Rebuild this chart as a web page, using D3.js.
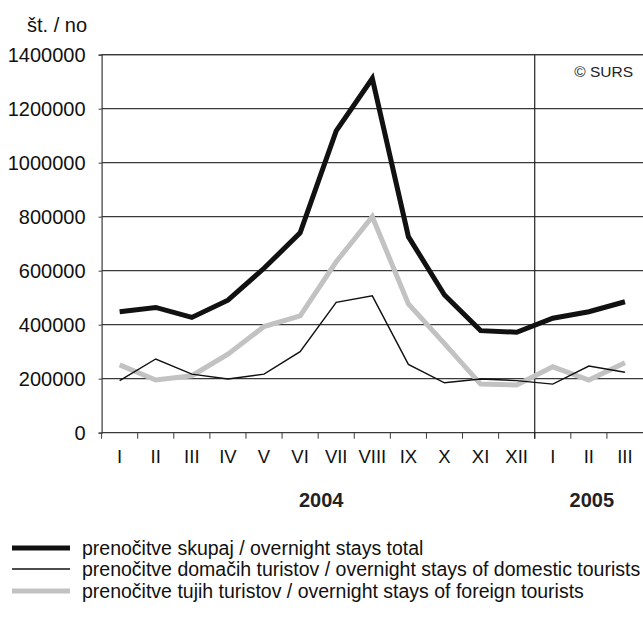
<!DOCTYPE html>
<html>
<head>
<meta charset="utf-8">
<script src="https://cdn.jsdelivr.net/npm/d3@7/dist/d3.min.js"></script>
<style>
  body { margin: 0; background: #fff; }
  svg { display: block; font-family: "Liberation Sans", Arial, sans-serif; }
</style>
</head>
<body>
<svg width="643" height="617"></svg>
<script>
const months = ["I", "II", "III", "IV", "V", "VI", "VII", "VIII", "IX", "X", "XI", "XII", "I", "II", "III"];
const years = [{ label: "2004", from: 0, to: 11 }, { label: "2005", from: 12, to: 14 }];
const yTicks = [0, 200000, 400000, 600000, 800000, 1000000, 1200000, 1400000];

// overnight stays total
const total = [448000, 464000, 427000, 491000, 609000, 740000, 1118000, 1312000, 726000, 510000, 378000, 372000, 424000, 448000, 485000];
// domestic tourists
const domestic = [193000, 273000, 217000, 199000, 217000, 300000, 483000, 507000, 253000, 185000, 199000, 193000, 180000, 247000, 224000];
// foreign tourists
const foreign = [251000, 195000, 211000, 291000, 393000, 433000, 633000, 800000, 477000, 330000, 180000, 177000, 244000, 195000, 259000];

const series = [
  { name: "prenočitve skupaj / overnight stays total", values: total, color: "#111", width: 5 },
  { name: "prenočitve domačih turistov / overnight stays of domestic tourists", values: domestic, color: "#111", width: 1.4 },
  { name: "prenočitve tujih turistov / overnight stays of foreign tourists", values: foreign, color: "#c2c2c2", width: 5 }
];

const svg = d3.select("svg");
const plotLeft = 101.6, plotRight = 643, plotTop = 54.7, plotBottom = 432.7;

const x = d3.scaleBand().domain(d3.range(months.length)).range([plotLeft, plotRight]);
const y = d3.scaleLinear().domain([0, 1400000]).range([plotBottom, plotTop]);

// grid lines
svg.append("g")
  .selectAll("line")
  .data(yTicks.filter(d => d > 0))
  .join("line")
  .attr("x1", plotLeft).attr("x2", plotRight)
  .attr("y1", d => y(d)).attr("y2", d => y(d))
  .attr("stroke", "#3a3a3a")
  .attr("stroke-width", 1.2);

// y axis
const yAxis = svg.append("g")
  .attr("transform", `translate(${plotLeft},0)`)
  .call(d3.axisLeft(y).tickValues(yTicks).tickSize(3).tickPadding(13).tickFormat(d3.format("d")));
yAxis.select(".domain").attr("stroke", "#3a3a3a").attr("stroke-width", 1.2);
yAxis.selectAll(".tick line").attr("stroke", "#3a3a3a");
yAxis.selectAll("text")
  .attr("font-size", "20px")
  .attr("fill", "#111")
  .attr("font-family", "Liberation Sans, Arial, sans-serif");

svg.append("text")
  .attr("x", 87).attr("y", 32)
  .attr("text-anchor", "end")
  .attr("font-size", "20px")
  .attr("fill", "#111")
  .text("št. / no");

// x axis
svg.append("line")
  .attr("x1", plotLeft).attr("x2", plotRight)
  .attr("y1", plotBottom).attr("y2", plotBottom)
  .attr("stroke", "#3a3a3a").attr("stroke-width", 1.2);
svg.append("g")
  .selectAll("line")
  .data(d3.range(months.length))
  .join("line")
  .attr("x1", d => x(d)).attr("x2", d => x(d))
  .attr("y1", plotBottom).attr("y2", plotBottom + 6)
  .attr("stroke", "#3a3a3a");

svg.append("g")
  .selectAll("text")
  .data(months)
  .join("text")
  .attr("x", (d, i) => x(i) + x.bandwidth() / 2)
  .attr("y", 463)
  .attr("text-anchor", "middle")
  .attr("font-size", "18.5px")
  .attr("fill", "#111")
  .text(d => d);

// year separator and top border
svg.append("line")
  .attr("x1", x(12)).attr("x2", x(12))
  .attr("y1", plotTop).attr("y2", plotBottom + 6)
  .attr("stroke", "#222").attr("stroke-width", 1.2);
svg.append("line")
  .attr("x1", plotLeft).attr("x2", plotRight)
  .attr("y1", plotTop).attr("y2", plotTop)
  .attr("stroke", "#3a3a3a").attr("stroke-width", 1.2);

svg.append("g")
  .selectAll("text")
  .data(years)
  .join("text")
  .attr("x", d => (x(d.from) + x(d.to) + x.bandwidth()) / 2 + 3)
  .attr("y", 507)
  .attr("text-anchor", "middle")
  .attr("font-size", "20px")
  .attr("font-weight", "bold")
  .attr("fill", "#222")
  .text(d => d.label);

svg.append("text")
  .attr("x", 633).attr("y", 77)
  .attr("text-anchor", "end")
  .attr("font-size", "15.5px")
  .attr("fill", "#222")
  .text("© SURS");

// series lines
const line = d3.line()
  .x((d, i) => x(i) + x.bandwidth() / 2)
  .y(d => y(d));

const drawOrder = [series[2], series[1], series[0]];
svg.append("g")
  .selectAll("path")
  .data(drawOrder)
  .join("path")
  .attr("d", d => line(d.values))
  .attr("fill", "none")
  .attr("stroke", d => d.color)
  .attr("stroke-width", d => d.width)
  .attr("stroke-linejoin", "miter");

// legend
const legendRows = [548, 569, 591];
const legend = svg.append("g");
legend.selectAll("line")
  .data(series)
  .join("line")
  .attr("x1", 12).attr("x2", 70)
  .attr("y1", (d, i) => legendRows[i]).attr("y2", (d, i) => legendRows[i])
  .attr("stroke", d => d.color)
  .attr("stroke-width", d => d.width);
legend.selectAll("text")
  .data(series)
  .join("text")
  .attr("x", 82)
  .attr("y", (d, i) => legendRows[i] + 7)
  .attr("font-size", "19.5px")
  .attr("fill", "#111")
  .text(d => d.name);
</script>
</body>
</html>
